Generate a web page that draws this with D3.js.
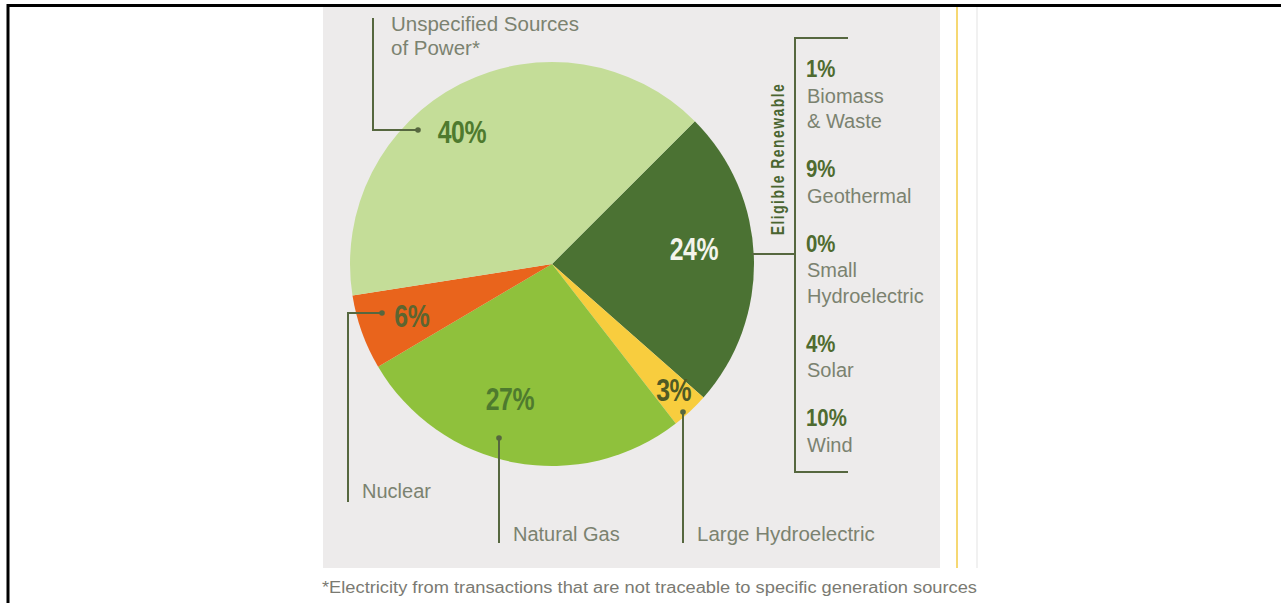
<!DOCTYPE html>
<html>
<head>
<meta charset="utf-8">
<script src="https://cdn.jsdelivr.net/npm/d3@7"></script>
<style>
  html, body { margin: 0; padding: 0; background: #ffffff; }
  svg { display: block; }
  .bold { font-family: "Liberation Sans", Arial, sans-serif; font-weight: bold; }
  .reg { font-family: "Liberation Sans", Arial, sans-serif; }
</style>
</head>
<body>
<svg id="chart" width="1281" height="603"></svg>
<script>
// ---- data ----
const categories = ["Eligible Renewable", "Large Hydroelectric", "Natural Gas", "Nuclear", "Unspecified Sources of Power*"];
const shares = [24, 3, 27, 6, 40];
const renewableNames = [["Biomass", "& Waste"], ["Geothermal"], ["Small", "Hydroelectric"], ["Solar"], ["Wind"]];
const renewableShares = [1, 9, 0, 4, 10];
const footnote = "*Electricity from transactions that are not traceable to specific generation sources";

// ---- styles / layout ----
const sliceColor = d3.scaleOrdinal()
  .domain(categories)
  .range(["#4b7233", "#f8cd3e", "#8fc13c", "#e9641c", "#c4dd98"]);
const labelColor = d3.scaleOrdinal()
  .domain(categories)
  .range(["#f4f4ec", "#4f5a25", "#4e7a2e", "#5d6530", "#4e7a2e"]);
const lineColor = "#56673f";
const textGray = "#7b8270";
const condensed = 0.8;

const svg = d3.select("#chart");
const W = 1281, H = 603;

// frame (cropped table border)
svg.append("line").attr("x1", 8).attr("x2", W).attr("y1", 5.5).attr("y2", 5.5)
  .attr("stroke", "#000").attr("stroke-width", 3);
svg.append("line").attr("x1", 8).attr("x2", 8).attr("y1", 4).attr("y2", H)
  .attr("stroke", "#000").attr("stroke-width", 3);

// grey panel
svg.append("rect").attr("x", 323).attr("y", 7).attr("width", 617).attr("height", 561)
  .attr("fill", "#edebeb");
// yellow rule and faint rule on the right
svg.append("line").attr("x1", 957).attr("x2", 957).attr("y1", 7).attr("y2", 568)
  .attr("stroke", "#f6d873").attr("stroke-width", 2);
svg.append("line").attr("x1", 977).attr("x2", 977).attr("y1", 7).attr("y2", 568)
  .attr("stroke", "#ececec").attr("stroke-width", 1.5);

// ---- pie ----
const cx = 552, cy = 264, R = 202;
const start = 45 * Math.PI / 180;
const pie = d3.pie().sort(null).value(d => d.v).startAngle(start).endAngle(start + 2 * Math.PI);
const data = categories.map((c, i) => ({ c, v: shares[i] }));
const arcs = pie(data);
const arc = d3.arc().innerRadius(0).outerRadius(R);
const g = svg.append("g").attr("transform", `translate(${cx},${cy})`);
g.selectAll("path.slice").data(arcs).join("path")
  .attr("class", "slice")
  .attr("d", arc)
  .attr("fill", d => sliceColor(d.data.c));

// percentage labels (condensed bold)
const labelArc = d3.arc().innerRadius(150).outerRadius(150);
const nudge = {
  "Eligible Renewable": [-8, -10],
  "Large Hydroelectric": [19, 17],
  "Natural Gas": [-14, -12],
  "Nuclear": [1, 2],
  "Unspecified Sources of Power*": [-22, 2]
};
g.selectAll("text.pct").data(arcs).join("text")
  .attr("class", "pct bold")
  .attr("transform", d => {
    const c = labelArc.centroid(d), n = nudge[d.data.c];
    return `translate(${c[0] + n[0]},${c[1] + n[1]}) scale(${condensed},1)`;
  })
  .attr("text-anchor", "middle")
  .attr("dominant-baseline", "central")
  .attr("font-size", 31)
  .attr("letter-spacing", -0.5)
  .attr("fill", d => labelColor(d.data.c))
  .text(d => d.data.v + "%");

// ---- annotations ----
function dot(x, y) {
  svg.append("circle").attr("cx", x).attr("cy", y).attr("r", 2.8).attr("fill", lineColor);
}
function path(pts) {
  svg.append("path").attr("d", d3.line()(pts)).attr("fill", "none")
    .attr("stroke", lineColor).attr("stroke-width", 2);
}
function label(x, y, txt, size) {
  svg.append("text").attr("class", "reg").attr("x", x).attr("y", y)
    .attr("font-size", size || 20).attr("fill", textGray).text(txt);
}
// Unspecified
path([[373, 18], [373, 130], [416, 130]]);
dot(418, 130);
label(391, 31, "Unspecified Sources", 20.5);
label(391, 55, "of Power*", 20.5);
// Nuclear
path([[382, 313], [348, 313], [348, 502]]);
dot(382, 313);
label(362, 498, categories[3]);
// Natural gas
path([[499, 438], [499, 543]]);
dot(499, 438);
label(513, 541, categories[2]);
// Large hydro
path([[683, 412], [683, 543]]);
dot(683, 412);
label(697, 541, categories[1], 20.5);

// ---- renewable bracket ----
path([[752, 254], [795, 254]]);
path([[848, 38], [795, 38], [795, 472], [848, 472]]);
svg.append("text").attr("class", "bold")
  .attr("transform", `translate(784,159) rotate(-90) scale(0.75,1)`)
  .attr("text-anchor", "middle")
  .attr("font-size", 18.5).attr("letter-spacing", 2)
  .attr("fill", "#4a6530").text(categories[0]);

let y = 77;
renewableShares.forEach((v, i) => {
  svg.append("text").attr("class", "bold")
    .attr("transform", `translate(806,${y}) scale(${condensed + 0.05},1)`)
    .attr("font-size", 24).attr("fill", "#4f6b30").text(v + "%");
  let ly = y;
  renewableNames[i].forEach(name => {
    ly += 25.5;
    label(807, ly, name);
  });
  y = ly + 49;
});

// ---- footnote ----
svg.append("text").attr("class", "reg").attr("x", 322).attr("y", 593)
  .attr("font-size", 16).attr("fill", "#7a7a72")
  .attr("textLength", 655).attr("lengthAdjust", "spacingAndGlyphs")
  .text(footnote);
</script>
</body>
</html>
